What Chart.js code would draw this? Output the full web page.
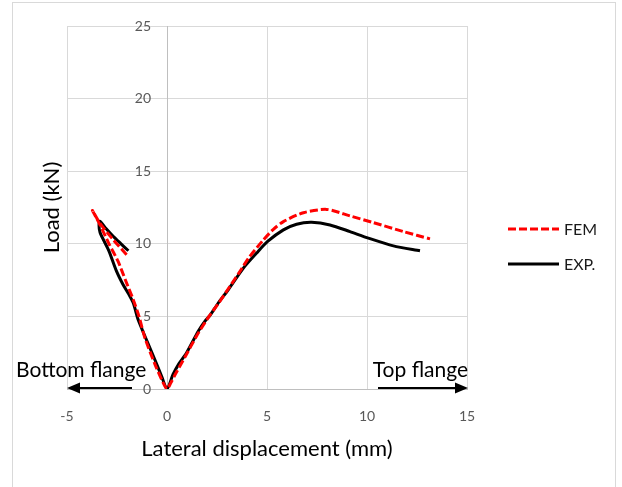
<!DOCTYPE html>
<html>
<head>
<meta charset="utf-8">
<script src="https://cdn.jsdelivr.net/npm/chart.js@4"></script>
<style>
  html, body { margin: 0; padding: 0; background: #fff; }
</style>
</head>
<body>
<canvas id="lateral" width="622" height="487"></canvas>
<script>
// lateral displacement (mm) vs load (kN), negative side = bottom flange
const femDisp = [-2.02, -2.7, -3.35, -3.73, -3.35, -2.9, -2.45, -2.05, -1.7, -1.4, -1.1, -0.6, -0.25, 0,
                 0.2, 0.45, 0.9, 1.5, 2.1, 2.6, 3.15, 3.6, 4.07, 4.82, 5.32, 5.82, 6.82, 7.98, 9.15, 10.32, 11.82, 13.15];
const femLoad = [9.25, 10.3, 11.4, 12.3, 11.3, 10.0, 8.8, 7.4, 6.2, 5.0, 3.5, 1.7, 0.6, 0,
                 0.45, 1.1, 2.2, 3.7, 5.0, 5.95, 7.08, 8.0, 9.0, 10.27, 11.0, 11.53, 12.14, 12.37, 11.92, 11.46, 10.84, 10.34];

const expDisp = [-1.93, -2.3, -2.68, -3.05, -3.35, -3.4, -3.35, -3.15, -2.9, -2.52, -2.2, -1.9, -1.68, -1.45, -1.0, -0.6, -0.25, 0,
                 0.3, 0.6, 0.98, 1.57, 1.9, 2.15, 2.57, 3.07, 3.82, 4.48, 5.03, 5.82, 6.48, 7.23, 8.15, 9.15, 10.07, 11.32, 12.65];
const expLoad = [9.52, 10.0, 10.5, 11.05, 11.55, 11.3, 10.8, 10.2, 9.5, 8.1, 7.2, 6.5, 5.9, 4.8, 3.3, 2.0, 0.8, 0,
                 1.0, 1.75, 2.5, 4.0, 4.68, 5.07, 5.94, 6.85, 8.33, 9.36, 10.16, 10.96, 11.35, 11.48, 11.3, 10.84, 10.39, 9.86, 9.52];

const xTicks = [-5, 0, 5, 10, 15];
const yTicks = [0, 5, 10, 15, 20, 25];

const FONT = 'Lato, "Open Sans", sans-serif';

const toPoints = (xs, ys) => xs.map((x, i) => ({ x: x, y: ys[i] }));

// frame, y tick labels beside the x = 0 axis, axis titles, legend and the flange arrows
const decorations = {
  id: 'decorations',
  beforeDraw(chart) {
    const ctx = chart.ctx;
    ctx.save();
    ctx.fillStyle = '#fff';
    ctx.fillRect(0, 0, chart.width, chart.height);
    ctx.strokeStyle = '#d9d9d9';
    ctx.lineWidth = 1;
    ctx.strokeRect(12.5, 2.5, 603, 500);
    ctx.restore();
  },
  afterDatasetsDraw(chart) {
    const ctx = chart.ctx;
    const xs = chart.scales.x;
    const ys = chart.scales.y;
    const axisX = xs.getPixelForValue(0);
    ctx.save();
    ctx.fillStyle = '#595959';
    ctx.font = '14px ' + FONT;
    ctx.textAlign = 'right';
    ctx.textBaseline = 'middle';
    ys.ticks.forEach(t => ctx.fillText(String(t.value), axisX - 16, ys.getPixelForValue(t.value)));
    ctx.restore();
  },
  afterDraw(chart) {
    const ctx = chart.ctx;
    const area = chart.chartArea;
    ctx.save();
    ctx.fillStyle = '#000';
    ctx.font = '22px ' + FONT;
    ctx.textAlign = 'center';
    ctx.textBaseline = 'middle';

    // axis titles
    ctx.fillText('Lateral displacement (mm)', (area.left + area.right) / 2, 449);
    ctx.save();
    ctx.translate(52, (area.top + area.bottom) / 2);
    ctx.rotate(-Math.PI / 2);
    ctx.fillText('Load (kN)', 0, 0);
    ctx.restore();

    // flange labels
    ctx.font = '21px ' + FONT;
    ctx.textBaseline = 'alphabetic';
    ctx.textAlign = 'left';
    ctx.fillText('Bottom flange', 16, 377);
    ctx.textAlign = 'right';
    ctx.fillText('Top flange', 468, 377);

    const arrowY = 388;
    ctx.strokeStyle = '#000';
    ctx.lineWidth = 2;
    ctx.beginPath();
    ctx.moveTo(132, arrowY); ctx.lineTo(78, arrowY);
    ctx.moveTo(378, arrowY); ctx.lineTo(456, arrowY);
    ctx.stroke();
    ctx.beginPath();
    ctx.moveTo(67, arrowY); ctx.lineTo(80, arrowY - 5.5); ctx.lineTo(80, arrowY + 5.5); ctx.closePath();
    ctx.moveTo(468, arrowY); ctx.lineTo(455, arrowY - 5.5); ctx.lineTo(455, arrowY + 5.5); ctx.closePath();
    ctx.fill();

    // legend
    ctx.font = '16px ' + FONT;
    ctx.textAlign = 'left';
    ctx.textBaseline = 'middle';
    const rows = [229, 264];
    chart.data.datasets.forEach((ds, i) => {
      const y = rows[i];
      ctx.strokeStyle = ds.borderColor;
      ctx.lineWidth = ds.borderWidth;
      ctx.setLineDash(ds.borderDash || []);
      ctx.beginPath();
      ctx.moveTo(508, y); ctx.lineTo(559, y);
      ctx.stroke();
      ctx.setLineDash([]);
      ctx.fillStyle = '#1a1a1a';
      ctx.fillText(ds.label, 564, y + 1);
    });
    ctx.restore();
  }
};

new Chart(document.getElementById('lateral'), {
  type: 'scatter',
  data: {
    datasets: [
      {
        label: 'FEM',
        data: toPoints(femDisp, femLoad),
        showLine: true,
        borderColor: '#ff0000',
        borderWidth: 3,
        borderDash: [8, 3],
        pointRadius: 0,
        tension: 0.25
      },
      {
        label: 'EXP.',
        data: toPoints(expDisp, expLoad),
        showLine: true,
        borderColor: '#000000',
        borderWidth: 3,
        pointRadius: 0,
        tension: 0.25
      }
    ]
  },
  options: {
    responsive: false,
    animation: false,
    devicePixelRatio: 1,
    layout: { padding: { left: 67, right: 155, top: 26, bottom: 0 } },
    plugins: {
      legend: { display: false },
      tooltip: { enabled: false }
    },
    scales: {
      x: {
        type: 'linear',
        min: -5,
        max: 15,
        afterFit(scale) { scale.height = 98; },
        afterBuildTicks(scale) { scale.ticks = xTicks.map(v => ({ value: v })); },
        grid: { color: '#d9d9d9', drawTicks: false },
        border: { color: '#bfbfbf' },
        ticks: { color: '#595959', font: { family: FONT, size: 14 }, padding: 19, maxRotation: 0 }
      },
      y: {
        type: 'linear',
        position: { x: 0 },
        min: 0,
        max: 25,
        afterBuildTicks(scale) { scale.ticks = yTicks.map(v => ({ value: v })); },
        grid: { color: '#d9d9d9', drawTicks: false },
        border: { color: '#bfbfbf' },
        ticks: { display: false }
      }
    }
  },
  plugins: [decorations]
});
</script>
</body>
</html>
